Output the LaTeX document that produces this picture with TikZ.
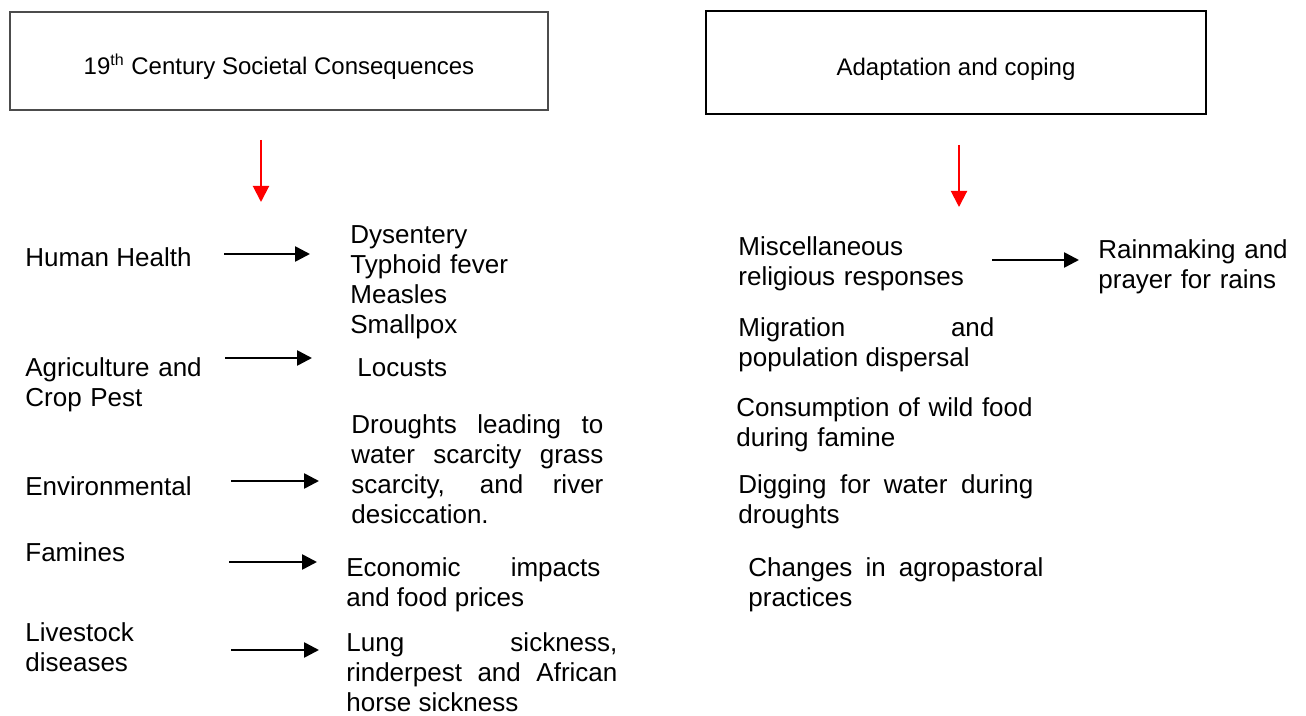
\documentclass[tikz,border=0pt]{standalone}
\usepackage{fontspec}
\setmainfont{Liberation Sans}
\usetikzlibrary{arrows.meta}

\begin{document}
\begin{tikzpicture}[
    x=0.5pt, y=-0.5pt,
    box/.style={ draw, line width=0.6pt, font=\fontsize{12}{14}\selectfont,
        text height=15.5pt, text depth=2pt, },
    item/.style={ anchor=base west, inner sep=0pt, align=left,
        font=\fontsize{13}{15}\selectfont, },
    just/.style={ item, text width=#1, align=justify, },
    arr/.style={ -{Triangle[length=7.5pt,width=7.5pt]}, line width=1.3pt, },
    redarr/.style={ -{Triangle[length=8pt,width=8pt]}, line width=1pt, red, },
]
\useasboundingbox (0,0) rectangle (1306,716);

\node[box, draw=black!70, minimum width=269pt, minimum height=49pt] (cons) at (279,61)
    {19\textsuperscript{th} Century Societal Consequences};
\node[box, minimum width=250pt, minimum height=51.5pt] (adapt) at (956,62.5)
    {Adaptation and coping};

\node[item] (hh) at (25,267) {Human Health};
\node[item, text width=100pt] (agri) at (25,377) {Agriculture and\\Crop Pest};
\node[item] (env) at (25,495) {Environmental};
\node[item] (fam) at (25,561) {Famines};
\node[item, text width=100pt] (live) at (25,641) {Livestock\\diseases};

\node[item, text width=100pt] (dis) at (350,244) {Dysentery\\Typhoid fever\\Measles\\Smallpox};
\node[item] (loc) at (357,377) {Locusts};
\node[just=126pt] (dro) at (351,434)
    {Droughts leading to\linebreak water scarcity grass\linebreak scarcity, and river\linebreak desiccation.};
\node[just=127pt] (eco) at (346,576) {Economic impacts\linebreak and food prices};
\node[just=135.5pt] (lung) at (346,651)
    {Lung sickness,\linebreak rinderpest and African\linebreak horse sickness};

\node[item, text width=130pt] (misc) at (738,256) {Miscellaneous\\religious responses};
\node[item, text width=110pt] (rain) at (1098,259) {Rainmaking and\\prayer for rains};
\node[just=128pt] (mig) at (738,337) {Migration and\linebreak population dispersal};
\node[item, text width=150pt] (wild) at (736,416) {Consumption of wild food\\during famine};
\node[just=147.5pt] (dig) at (738,493) {Digging for water during\linebreak droughts};
\node[just=147.5pt] (chg) at (748,576) {Changes in agropastoral\linebreak practices};

\foreach \n/\xa/\xb/\y in {hh/224/310/254, agri/225/312/358, env/231/319/481,
    fam/229/317/562, live/231/319/650, misc/992/1079/260}
{
    \coordinate (\n-from) at (\xa,\y);
    \coordinate (\n-to) at (\xb,\y);
    \draw[arr] (\n-from) -- (\n-to);
}

\coordinate (cons-from) at (261,140);
\coordinate (cons-to) at (261,202);
\coordinate (adapt-from) at (959,145);
\coordinate (adapt-to) at (959,207);
\draw[redarr] (cons-from) -- (cons-to);
\draw[redarr] (adapt-from) -- (adapt-to);
\end{tikzpicture}
\end{document}
